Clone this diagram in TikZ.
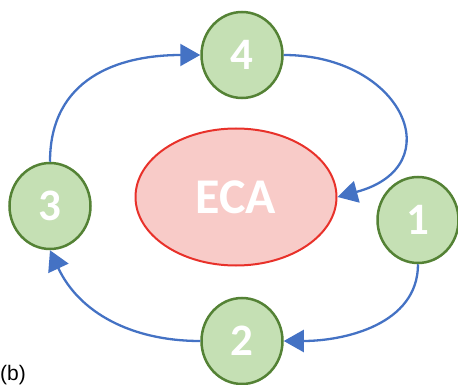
\documentclass[tikz,border=0pt]{standalone}
\usepackage{fontspec}
\usetikzlibrary{arrows.meta,shapes.geometric}
\newfontfamily\numfont{Carlito}
\newfontfamily\capfont{Liberation Sans}
\definecolor{stagefill}{HTML}{C5E0B4}
\definecolor{stageline}{HTML}{548235}
\definecolor{ecafill}{HTML}{F8CBC8}
\definecolor{ecaline}{HTML}{E8312A}
\definecolor{flowblue}{HTML}{4472C4}

\begin{document}
\begin{tikzpicture}
[
	x=1pt,y=-1pt,
	stage/.style={ellipse,draw=stageline,fill=stagefill,line width=2.5pt,minimum width=81pt,minimum height=86pt,inner sep=0pt,text=white,font=\numfont\bfseries\fontsize{45}{45}\selectfont},
	core/.style={ellipse,draw=ecaline,fill=ecafill,line width=2pt,minimum width=201pt,minimum height=137pt,inner sep=0pt,text=white,font=\numfont\bfseries\fontsize{50}{50}\selectfont},
	flow/.style={draw=flowblue,line width=2.3pt,-{Triangle[length=20pt,width=22pt]}}
]

	\useasboundingbox (0,0) rectangle (458,385);

	\node[core] at (236,197) (eca) {ECA};

	\node[stage] at (418,220) (one) {1};
	\node[stage] at (242,341) (two) {2};
	\node[stage] at (50,206) (three) {3};
	\node[stage] at (242,55) (four) {4};

	\draw[flow] (three.north) to[out=90,in=180,looseness=1.15] (four.west);
	\draw[flow] (four.east) to[out=0,in=15,looseness=2] (eca.east);
	\draw[flow] (one.south) to[out=-90,in=0] (two.east);
	\draw[flow] (two.west) to[out=180,in=-65] (three.south);

	\node[anchor=base west,inner sep=0pt,font=\capfont\fontsize{21}{21}\selectfont] at (0,380) (tag) {(b)};

\end{tikzpicture}
\end{document}
